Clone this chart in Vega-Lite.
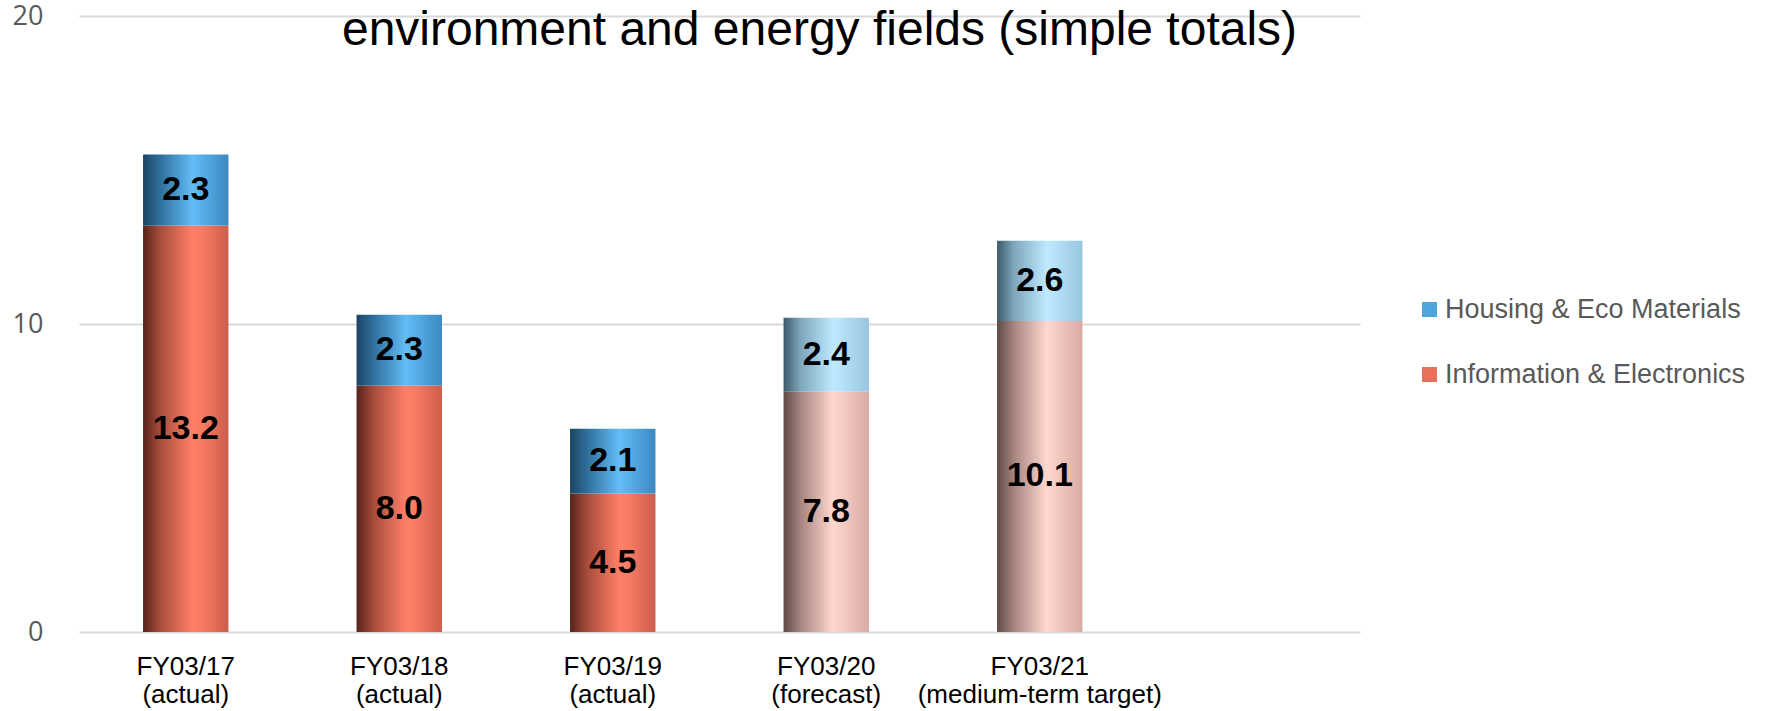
{
  "$schema": "https://vega.github.io/schema/vega-lite/v6.json",
  "width": 1281,
  "height": 616,
  "autosize": {"type": "none"},
  "padding": {"left": 79, "top": 16, "right": 423, "bottom": 79},
  "background": "white",
  "title": {
    "text": "environment and energy fields (simple totals)",
    "font": "Liberation Sans",
    "fontSize": 48,
    "fontWeight": "normal",
    "color": "#000000",
    "anchor": "middle",
    "frame": "group",
    "orient": "top",
    "offset": -91,
    "baseline": "alphabetic",
    "dx": 100
  },
  "data": {
    "values": [
      {"year": "FY03/17|(actual)", "status": "actual", "series": "Information & Electronics", "value": 13.2},
      {"year": "FY03/17|(actual)", "status": "actual", "series": "Housing & Eco Materials", "value": 2.3},
      {"year": "FY03/18|(actual)", "status": "actual", "series": "Information & Electronics", "value": 8.0},
      {"year": "FY03/18|(actual)", "status": "actual", "series": "Housing & Eco Materials", "value": 2.3},
      {"year": "FY03/19|(actual)", "status": "actual", "series": "Information & Electronics", "value": 4.5},
      {"year": "FY03/19|(actual)", "status": "actual", "series": "Housing & Eco Materials", "value": 2.1},
      {"year": "FY03/20|(forecast)", "status": "plan", "series": "Information & Electronics", "value": 7.8},
      {"year": "FY03/20|(forecast)", "status": "plan", "series": "Housing & Eco Materials", "value": 2.4},
      {"year": "FY03/21|(medium-term target)", "status": "plan", "series": "Information & Electronics", "value": 10.1},
      {"year": "FY03/21|(medium-term target)", "status": "plan", "series": "Housing & Eco Materials", "value": 2.6}
    ]
  },
  "encoding": {
    "x": {
      "field": "year",
      "type": "nominal",
      "sort": null,
      "scale": {
        "domain": ["FY03/17|(actual)", "FY03/18|(actual)", "FY03/19|(actual)", "FY03/20|(forecast)", "FY03/21|(medium-term target)", " "],
        "paddingInner": 0.6,
        "paddingOuter": 0.3
      },
      "axis": {
        "title": null,
        "domain": false,
        "ticks": false,
        "labelAngle": 0,
        "labelFont": "Liberation Sans",
        "labelFontSize": 26,
        "labelColor": "#000000",
        "labelPadding": 21,
        "labelLineHeight": 28,
        "labelBaseline": "top",
        "labelOverlap": false,
        "labelBound": false,
        "labelLimit": 500,
        "labelExpr": "split(datum.label, '|')"
      }
    },
    "order": {"field": "series", "sort": "descending"}
  },
  "layer": [
    {
      "mark": {"type": "bar"},
      "encoding": {
        "y": {
          "field": "value",
          "type": "quantitative",
          "stack": "zero",
          "scale": {"domain": [0, 20], "nice": false},
          "axis": {
            "title": null,
            "values": [0, 10, 20],
            "grid": true,
            "gridColor": "#d9d9d9",
            "gridWidth": 2,
            "domain": false,
            "ticks": false,
            "labelFont": "Open Sans",
            "labelFontSize": 27,
            "labelColor": "#595959",
            "labelPadding": 36
          }
        },
        "color": {
          "field": "series",
          "type": "nominal",
          "scale": {
            "domain": ["Housing & Eco Materials", "Information & Electronics"],
            "range": ["#4EA6DC", "#E8705A"]
          },
          "legend": {
            "orient": "none",
            "legendX": 1337,
            "legendY": 280,
            "title": null,
            "symbolType": "square",
            "symbolSize": 225,
            "symbolStrokeWidth": 0,
            "labelFont": "Liberation Sans",
            "labelFontSize": 27,
            "labelColor": "#595959",
            "labelOffset": 2,
            "labelLimit": 500,
            "rowPadding": 37
          },
          "condition": [
            {
              "test": "datum.series === 'Housing & Eco Materials' && datum.status === 'actual'",
              "value": {"gradient": "linear", "x1": 0, "x2": 1, "y1": 0, "y2": 0, "stops": [
                {"offset": 0, "color": "#1b4462"}, {"offset": 0.2, "color": "#2f6f9c"}, {"offset": 0.58, "color": "#63bdf7"}, {"offset": 1, "color": "#3b88c0"}]}
            },
            {
              "test": "datum.series === 'Housing & Eco Materials' && datum.status === 'plan'",
              "value": {"gradient": "linear", "x1": 0, "x2": 1, "y1": 0, "y2": 0, "stops": [
                {"offset": 0, "color": "#3e5a6a"}, {"offset": 0.2, "color": "#7ea7bd"}, {"offset": 0.58, "color": "#bfe9ff"}, {"offset": 1, "color": "#98c6df"}]}
            },
            {
              "test": "datum.series === 'Information & Electronics' && datum.status === 'actual'",
              "value": {"gradient": "linear", "x1": 0, "x2": 1, "y1": 0, "y2": 0, "stops": [
                {"offset": 0, "color": "#56241a"}, {"offset": 0.2, "color": "#a84c3c"}, {"offset": 0.58, "color": "#ff8068"}, {"offset": 0.7, "color": "#f77a63"}, {"offset": 1, "color": "#cc5d4b"}]}
            },
            {
              "test": "datum.series === 'Information & Electronics' && datum.status === 'plan'",
              "value": {"gradient": "linear", "x1": 0, "x2": 1, "y1": 0, "y2": 0, "stops": [
                {"offset": 0, "color": "#5e4b48"}, {"offset": 0.2, "color": "#a88580"}, {"offset": 0.58, "color": "#ffd7cf"}, {"offset": 1, "color": "#d9aaa3"}]}
            }
          ]
        }
      }
    },
    {
      "mark": {"type": "text", "font": "Liberation Sans", "fontWeight": "bold", "fontSize": 34, "color": "#000000", "baseline": "middle", "align": "center"},
      "encoding": {
        "y": {"field": "value", "type": "quantitative", "stack": "zero", "bandPosition": 0.5},
        "detail": {"field": "series"},
        "text": {"field": "value", "type": "quantitative", "format": ".1f"}
      }
    }
  ],
  "config": {"view": {"stroke": null}}
}
